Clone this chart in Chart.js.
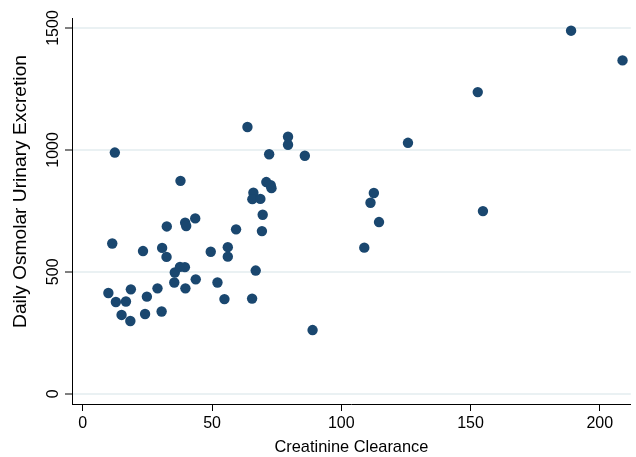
<!DOCTYPE html>
<html>
<head>
<meta charset="utf-8">
<script src="https://cdn.jsdelivr.net/npm/chart.js@4/dist/chart.umd.min.js"></script>
<style>
html,body{margin:0;padding:0;background:#fff;}
#wrap{width:636px;height:457px;position:relative;}
</style>
</head>
<body>
<div id="wrap"><canvas id="c" width="636" height="457"></canvas></div>
<script>
const xTitle = "Creatinine Clearance";
const yTitle = "Daily Osmolar Urinary Excretion";
const xTicks = [0, 50, 100, 150, 200];
const yTicks = [0, 500, 1000, 1500];

const clearance = [
  12.4, 63.7, 72.1, 37.8, 71.0, 72.7, 73.0, 66.0, 65.6, 68.7,
  69.6, 69.3, 32.5, 39.6, 40.0, 43.5, 59.3, 11.4, 23.3, 30.7,
  32.4, 49.5, 56.1, 56.1, 66.9, 35.6, 37.6, 39.5, 35.4, 39.7,
  43.7, 52.1, 54.8, 65.5, 9.9, 18.6, 28.9, 12.8, 16.7, 24.8,
  15.0, 18.4, 24.1, 30.5, 79.4, 79.4, 85.9, 88.9, 112.6, 111.3,
  114.6, 108.9, 188.9, 208.8, 152.8, 125.8, 154.8
];
const osmolar = [
  989, 1094, 982, 873, 868, 855, 843, 824, 798, 799,
  734, 667, 686, 701, 688, 719, 674, 616, 585, 598,
  561, 582, 601, 562, 505, 497, 520, 519, 456, 432,
  469, 456, 388, 390, 413, 428, 432, 376, 378, 398,
  323, 298, 327, 337, 1054, 1021, 976, 261, 823, 783,
  704, 599, 1489, 1367, 1237, 1029, 749
];

const points = clearance.map((x, i) => ({x: x, y: osmolar[i]}));

const FONT = "'Liberation Sans', Arial, Helvetica, sans-serif";
const TEXT = "#000000";

const yLabelPlugin = {
  id: 'yLabels',
  afterDraw(chart) {
    const ys = chart.scales.y;
    const ctx = chart.ctx;
    ctx.save();
    ctx.fillStyle = TEXT;
    ctx.font = "16px " + FONT;
    ctx.textAlign = 'center';
    ctx.textBaseline = 'middle';
    yTicks.forEach(v => {
      const py = ys.getPixelForValue(v);
      ctx.save();
      ctx.translate(53.5, py);
      ctx.rotate(-Math.PI / 2);
      ctx.fillText(String(v), 0, 0);
      ctx.restore();
    });
    // y axis title
    ctx.save();
    ctx.font = "18px " + FONT;
    ctx.translate(21.5, 191.5);
    ctx.rotate(-Math.PI / 2);
    ctx.scale(1.066, 1);
    ctx.fillText(yTitle, 0, 0);
    ctx.restore();
    ctx.restore();
  }
};

new Chart(document.getElementById('c'), {
  type: 'scatter',
  data: {
    datasets: [{
      data: points,
      backgroundColor: '#1a476f',
      borderColor: '#1a476f',
      borderWidth: 0,
      pointRadius: 5.2,
      pointHoverRadius: 5.2
    }]
  },
  options: {
    responsive: false,
    animation: false,
    devicePixelRatio: 1,
    layout: {padding: {left: 0, right: 4, top: 18, bottom: 0}},
    plugins: {legend: {display: false}, tooltip: {enabled: false}},
    scales: {
      x: {
        type: 'linear',
        min: -4.17,
        max: 212.0,
        afterBuildTicks: s => { s.ticks = xTicks.map(v => ({value: v})); },
        afterFit: s => { s.height = 53; },
        border: {display: true, color: '#000', width: 1},
        grid: {drawOnChartArea: false, drawTicks: true, tickLength: 7, tickColor: '#000', tickWidth: 1},
        ticks: {
          color: TEXT, padding: 3, maxRotation: 0, minRotation: 0, autoSkip: false,
          font: {family: FONT, size: 16}
        },
        title: {
          display: true, text: xTitle, color: TEXT,
          font: {family: FONT, size: 16.4}, padding: {top: 0, bottom: 0}
        }
      },
      y: {
        type: 'linear',
        min: -42.3,
        max: 1541,
        afterBuildTicks: s => { s.ticks = yTicks.map(v => ({value: v})); },
        afterFit: s => { s.width = 72; },
        border: {display: true, color: '#000', width: 1},
        grid: {color: '#eaf1f3', lineWidth: 2, drawTicks: true, tickLength: 7, tickColor: '#000', tickWidth: 1},
        ticks: {display: false},
        title: {display: false}
      }
    }
  },
  plugins: [yLabelPlugin]
});
</script>
</body>
</html>
